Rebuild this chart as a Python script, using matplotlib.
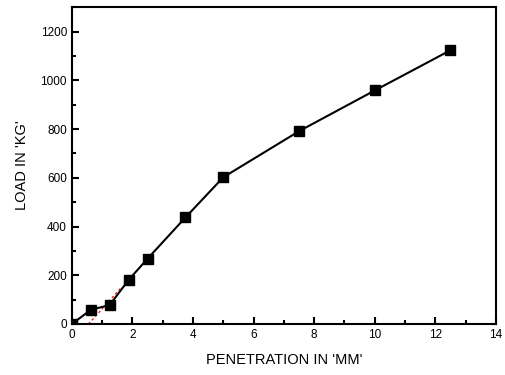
import matplotlib
matplotlib.use("Agg")
import matplotlib.pyplot as plt
from matplotlib.ticker import MultipleLocator

plt.rcParams["font.family"] = ["Liberation Sans", "DejaVu Sans"]

# penetration (mm) vs load (kg)
penetration = [0, 0.625, 1.25, 1.875, 2.5, 3.75, 5.0, 7.5, 10.0, 12.5]
load = [0, 58, 78, 181, 268, 437, 602, 791, 958, 1123]

# origin correction (red dashed)
corr_x = [0.55, 1.6]
corr_y = [0, 145]

fig = plt.figure(figsize=(5.06, 3.75), dpi=100)
ax = fig.add_axes([0.142, 0.136, 0.838, 0.845])

ax.plot(corr_x, corr_y, color="red", lw=0.9, ls=(0, (2, 2)), zorder=2)
ax.plot(penetration, load, color="black", lw=1.5, marker="s", ms=7.5,
        markerfacecolor="black", markeredgecolor="black", zorder=3)

ax.set_xlim(0, 14)
ax.set_ylim(0, 1300)
ax.xaxis.set_major_locator(MultipleLocator(2))
ax.xaxis.set_minor_locator(MultipleLocator(1))
ax.yaxis.set_major_locator(MultipleLocator(200))
ax.yaxis.set_minor_locator(MultipleLocator(100))
ax.tick_params(which="both", direction="in", top=False, right=False, width=1.5,
               labelsize=8.5)
ax.tick_params(which="major", length=5)
ax.tick_params(which="minor", length=3)
for s in ax.spines.values():
    s.set_linewidth(1.5)

ax.set_xlabel("PENETRATION IN 'MM'", fontsize=10.5, labelpad=9)
ax.set_ylabel("LOAD IN 'KG'", fontsize=10.5, labelpad=8)

fig.savefig("out.png", dpi=100)
